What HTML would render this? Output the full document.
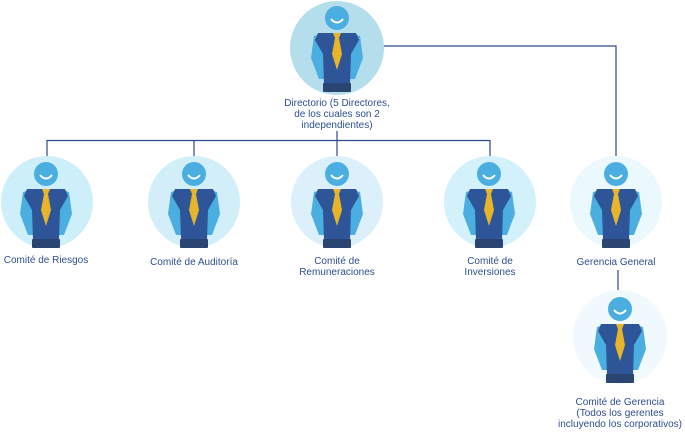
<!DOCTYPE html>
<html><head><meta charset="utf-8"><style>
html,body{margin:0;padding:0;background:#fff;}
svg{display:block;}
text{font-family:"Liberation Sans",sans-serif;font-size:10px;fill:#2f4f8f;text-anchor:middle;}
</style></head><body>
<svg width="685" height="435" viewBox="0 0 685 435">
<defs>
<g id="p">
  <path d="M-16,-12 L-23,-10 L-26,12 L-18,33 L-10,33 L-12,10 Z" fill="#4aaee0"/>
  <path d="M16,-12 L23,-10 L26,12 L18,33 L10,33 L12,10 Z" fill="#4aaee0"/>
  <path d="M-19,-13 L19,-13 L22,-6 L14,8 L13,38 L-13,38 L-14,8 L-22,-6 Z" fill="#2e5597"/>
  <path d="M-4,-13 L4,-13 L2,-8 L5,8 L0,24 L-5,8 L-2,-8 Z" fill="#e8b52a"/>
  <rect x="-14" y="37" width="28" height="9" rx="1" fill="#2b4572"/>
  <circle cx="0" cy="-28" r="12" fill="#4aaee0"/>
  <path d="M-6,-27 Q0,-20 6,-27" stroke="#fff" stroke-width="2" fill="none"/>
</g>
</defs>
<g stroke="#2e4a8a" stroke-width="1.2" fill="none">
  <path d="M384,46 H616 V158"/>
  <path d="M47,158 V140.5 H490 V158"/>
  <path d="M194,140.5 V158"/>
  <path d="M337,131 V158"/>
  <path d="M618,270 V292"/>
</g>
<circle cx="337" cy="48" r="47" fill="#b5deed"/>
<circle cx="47" cy="202" r="46" fill="#cdeffa"/>
<circle cx="194" cy="202" r="46" fill="#d2eff9"/>
<circle cx="337" cy="202" r="46" fill="#dcf0fc"/>
<circle cx="490" cy="202" r="46" fill="#d3f1fb"/>
<circle cx="616" cy="202" r="46" fill="#ebf8fd"/>
<circle cx="620" cy="337" r="47" fill="#eff9fe"/>
<use href="#p" x="337" y="46"/>
<use href="#p" x="46" y="202"/>
<use href="#p" x="194" y="202"/>
<use href="#p" x="337" y="202"/>
<use href="#p" x="489" y="202"/>
<use href="#p" x="616" y="202"/>
<use href="#p" x="620" y="337"/>
<text x="337" y="106">Directorio (5 Directores,</text>
<text x="337" y="117">de los cuales son 2</text>
<text x="337" y="128">independientes)</text>
<text x="46" y="263">Comité de Riesgos</text>
<text x="194" y="265">Comité de Auditoría</text>
<text x="337" y="264">Comité de</text>
<text x="337" y="275">Remuneraciones</text>
<text x="490" y="264">Comité de</text>
<text x="490" y="275">Inversiones</text>
<text x="616" y="265">Gerencia General</text>
<text x="620" y="405">Comité de Gerencia</text>
<text x="620" y="416">(Todos los gerentes</text>
<text x="620" y="427">incluyendo los corporativos)</text>
</svg>
</body></html>
